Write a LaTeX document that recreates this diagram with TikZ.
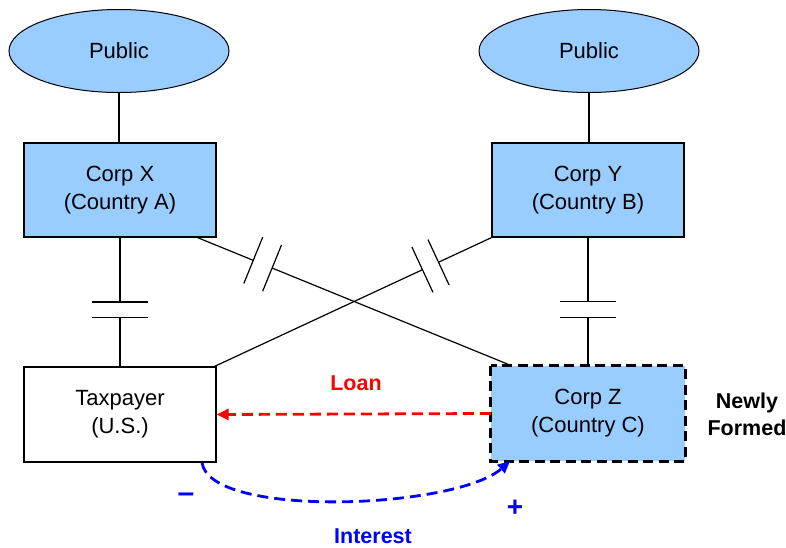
\documentclass[tikz,border=0pt]{standalone}
\usepackage{fontspec}
\setmainfont{Liberation Sans}
\usetikzlibrary{shapes.geometric,calc,arrows.meta}
\definecolor{boxblue}{HTML}{99CCFF}
\definecolor{lred}{HTML}{FF0000}
\definecolor{lblue}{HTML}{0000FF}
\begin{document}
\begin{tikzpicture}[x=1pt,y=-1pt,
  lbl/.style={font=\fontsize{22}{28}\selectfont, align=center},
  blbl/.style={font=\fontsize{21.5}{27}\selectfont\bfseries, align=center},
  pub/.style={ellipse, draw, line width=1pt, fill=boxblue, minimum width=220pt, minimum height=83pt, inner sep=0pt, lbl},
  corp/.style={rectangle, draw, line width=1.3pt, fill=boxblue, minimum width=192pt, minimum height=94pt, inner sep=0pt, lbl},
  plainbox/.style={rectangle, draw, line width=1.3pt, fill=white, minimum width=192pt, minimum height=95pt, inner sep=0pt, lbl},
  corpz/.style={rectangle, fill=boxblue, minimum width=194pt, minimum height=95pt, inner sep=0pt, lbl},
  conn/.style={draw, line width=1.2pt},
  loanarrow/.style={draw=lred, line width=2.8pt, dash pattern=on 11pt off 6pt, -{Triangle[length=12pt,width=11pt]}},
  intarrow/.style={draw=lblue, line width=2.8pt, dash pattern=on 11pt off 6pt, -{Triangle[length=12pt,width=11pt]}}
]
\useasboundingbox[fill=white] (0,0) rectangle (786,547);

\node[pub] (p1) at (119,51) {Public};
\node[pub] (p2) at (589,51) {Public};
\node[corp] (cx) at (120,190) {Corp X\\(Country A)};
\node[corp] (cy) at (588,190) {Corp Y\\(Country B)};
\node[plainbox] (tp) at (120,414.5) {Taxpayer\\(U.S.)};
\node[corpz] (cz) at (588,413.5) {Corp Z\\(Country C)};
\draw[line width=3pt, dash pattern=on 10pt off 5.5pt] (cz.north west) rectangle (cz.south east);

% public to corps
\draw[conn] (p1.south) -- (p1.south |- cx.north);
\draw[conn] (p2.south) -- (p2.south |- cy.north);

% vertical broken links
\coordinate (v1a) at ($(cx.south)!0.5!(tp.north)$);
\coordinate (v1b) at ($(cx.south)!0.623!(tp.north)$);
\draw[conn] (cx.south) -- (v1a) (v1b) -- (tp.north);
\draw[conn] ($(v1a)!28pt!90:(tp.north)$) -- ($(v1a)!28pt!-90:(tp.north)$);
\draw[conn] ($(v1b)!28pt!90:(tp.north)$) -- ($(v1b)!28pt!-90:(tp.north)$);

\coordinate (v2a) at ($(cy.south)!0.5!(cz.north)$);
\coordinate (v2b) at ($(cy.south)!0.623!(cz.north)$);
\draw[conn] (cy.south) -- (v2a) (v2b) -- (cz.north);
\draw[conn] ($(v2a)!28pt!90:(cz.north)$) -- ($(v2a)!28pt!-90:(cz.north)$);
\draw[conn] ($(v2b)!28pt!90:(cz.north)$) -- ($(v2b)!28pt!-90:(cz.north)$);

% diagonal X -> Z
\coordinate (d1s) at ([xshift=-19pt]cx.south east);
\coordinate (d1e) at ([xshift=21pt]cz.north west);
\coordinate (d1a) at ($(d1s)!0.177!(d1e)$);
\coordinate (d1b) at ($(d1s)!0.237!(d1e)$);
\draw[conn] (d1s) -- (d1a) (d1b) -- (d1e);
\draw[conn] ($(d1a)!25pt!90:(d1e)$) -- ($(d1a)!25pt!-90:(d1e)$);
\draw[conn] ($(d1b)!25pt!90:(d1e)$) -- ($(d1b)!25pt!-90:(d1e)$);

% diagonal Y -> Taxpayer
\coordinate (d2s) at (cy.south west);
\coordinate (d2e) at ([xshift=-2pt]tp.north east);
\coordinate (d2a) at ($(d2s)!0.191!(d2e)$);
\coordinate (d2b) at ($(d2s)!0.249!(d2e)$);
\draw[conn] (d2s) -- (d2a) (d2b) -- (d2e);
\draw[conn] ($(d2a)!25pt!90:(d2e)$) -- ($(d2a)!25pt!-90:(d2e)$);
\draw[conn] ($(d2b)!25pt!90:(d2e)$) -- ($(d2b)!25pt!-90:(d2e)$);

% loan
\draw[loanarrow] (cz.west) -- (tp.east);
\node[blbl, text=lred] (loanlbl) at (356,383) {Loan};

% interest
\coordinate (is) at ([xshift=82pt]tp.south);
\coordinate (ie) at ([xshift=-78pt]cz.south);
\draw[intarrow] (is) .. controls +(8,56) and +(-55,48) .. (ie);
\node[blbl, text=lblue] (intlbl) at (373,536) {Interest};
\node[font=\fontsize{30}{30}\selectfont\bfseries, text=lblue] (minus) at (186,498) {–};
\node[font=\fontsize{28}{28}\selectfont\bfseries, text=lblue] (plus) at (515,508) {+};

\node[blbl] (nf) at (747,414) {Newly\\Formed};
\end{tikzpicture}
\end{document}
